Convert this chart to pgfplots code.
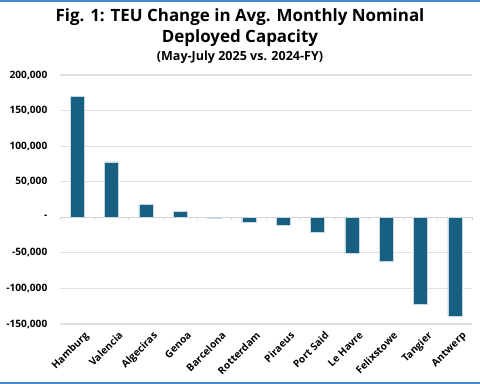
\documentclass[border=0pt]{standalone}
\usepackage{pgfplots}
\pgfplotsset{compat=1.18}
\usepackage{fontspec}
\setmainfont{Open Sans}
\definecolor{barblue}{RGB}{24,96,130}
\definecolor{frameblue}{RGB}{62,138,202}
\definecolor{gridgray}{RGB}{224,224,224}
\begin{document}
\begin{tikzpicture}
\path[use as bounding box] (0,0) rectangle (360pt,288pt);
\draw[frameblue, line width=1.2pt] (0,287.4pt) -- (360pt,287.4pt);
\draw[frameblue, line width=1.2pt] (0,0.6pt) -- (360pt,0.6pt);
\node[font=\bfseries\fontsize{12.7}{15}\selectfont] at (180pt,275pt) {Fig. 1: TEU Change in Avg. Monthly Nominal};
\node[font=\bfseries\fontsize{12.7}{15}\selectfont] at (180pt,259.5pt) {Deployed Capacity};
\node[font=\bfseries\fontsize{9.4}{11}\selectfont] at (180pt,245pt) {(May-July 2025 vs. 2024-FY)};
\begin{axis}[
  at={(45pt,45pt)}, anchor=south west,
  scale only axis, width=309pt, height=186.75pt,
  xmin=-0.5, xmax=11.5, ymin=-150000, ymax=200000,
  axis line style={draw=none},
  scaled y ticks=false,
  xtick={0,...,11},
  xticklabels={Hamburg,Valencia,Algeciras,Genoa,Barcelona,Rotterdam,Piraeus,Port Said,Le Havre,Felixstowe,Tangier,Antwerp},
  xticklabel style={rotate=45, anchor=north east, font=\bfseries\fontsize{7.6}{9}\selectfont, inner sep=1pt, yshift=-6pt, xshift=1pt},
  ytick={-150000,-100000,-50000,0,50000,100000,150000,200000},
  yticklabels={{-150,000},{-100,000},{-50,000},{-},{50,000},{100,000},{150,000},{200,000}},
  yticklabel style={font=\bfseries\fontsize{7.6}{9}\selectfont, xshift=-6pt},
  major tick length=0pt,
  ymajorgrids, grid style={gridgray, line width=0.8pt},
  clip=false,
]
\draw[gridgray!85!gray, line width=0.8pt] (axis cs:-0.5,0) -- (axis cs:11.5,0);
\pgfplotsinvokeforeach{-0.5,0.5,...,11.5}{\draw[gridgray!85!gray, line width=0.6pt] (axis cs:#1,0) -- (axis cs:#1,-4000);}
\addplot[ybar, bar width=10.5pt, fill=barblue, draw=white!75!barblue, line width=0.3pt] coordinates {
(0,170000) (1,78000) (2,18500) (3,8000) (4,-2000) (5,-7000) (6,-11000) (7,-21500) (8,-51000) (9,-61500) (10,-122500) (11,-139000)};
\end{axis}
\end{tikzpicture}
\end{document}
